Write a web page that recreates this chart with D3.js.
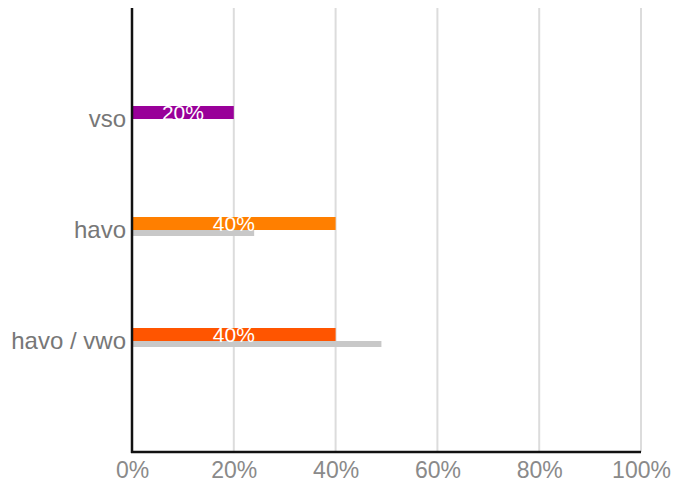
<!DOCTYPE html>
<html><head><meta charset="utf-8">
<script src="https://cdn.jsdelivr.net/npm/d3@7"></script>
<style>body{margin:0;background:#fff}svg{display:block}</style>
</head><body>
<svg id="c" width="677" height="493"></svg>
<script>
const categories = ["vso", "havo", "havo / vwo"];
const mainValues = [0.20, 0.40, 0.40];
const mainLabels = ["20%", "40%", "40%"];
const compareValues = [null, 0.24, 0.49];
const barColors = ["#990099", "#ff7f00", "#ff5500"];
const tickValues = [0, 0.2, 0.4, 0.6, 0.8, 1.0];

(function () {
const svg = d3.select("#c");
const mLeft = 132, mRight = 641, mTop = 8, mBottom = 452;
const x = d3.scaleLinear().domain([0, 1]).range([mLeft, mRight]);
const y = d3.scalePoint().domain(categories).range([mTop, mBottom]).padding(1);
const font = "'Liberation Sans', Arial, sans-serif";

// gridlines
svg.append("g").selectAll("line").data(tickValues.slice(1)).join("line")
  .attr("x1", d => x(d)).attr("x2", d => x(d))
  .attr("y1", mTop).attr("y2", mBottom)
  .attr("stroke", "#dcdcdc").attr("stroke-width", 2);

// comparison bars (grey)
svg.append("g").selectAll("rect").data(categories.map((c, i) => ({c, v: compareValues[i]})).filter(d => d.v != null)).join("rect")
  .attr("x", mLeft).attr("y", d => y(d.c))
  .attr("width", d => x(d.v) - mLeft).attr("height", 6)
  .attr("fill", "#c8c8c8");

// main bars
svg.append("g").selectAll("rect").data(categories.map((c, i) => ({c, v: mainValues[i], col: barColors[i]}))).join("rect")
  .attr("x", mLeft).attr("y", d => y(d.c) - 13)
  .attr("width", d => x(d.v) - mLeft).attr("height", 13)
  .attr("fill", d => d.col);

// bar labels
svg.append("g").selectAll("text").data(categories.map((c, i) => ({c, v: mainValues[i], t: mainLabels[i]}))).join("text")
  .attr("x", d => (mLeft + x(d.v)) / 2).attr("y", d => y(d.c) + 1)
  .attr("text-anchor", "middle").attr("fill", "#ffffff")
  .attr("font-family", font).attr("font-size", 21)
  .text(d => d.t);

// x axis
const xAxis = d3.axisBottom(x).tickValues(tickValues).tickFormat(d3.format(".0%")).tickSize(0).tickPadding(10);
const gx = svg.append("g").attr("transform", `translate(0,${mBottom})`).call(xAxis);
gx.select(".domain").remove();
gx.selectAll("text").attr("font-family", font).attr("font-size", 23).attr("fill", "#8a8a8a").attr("dy", "0.71em");

// y axis
const yAxis = d3.axisLeft(y).tickSize(0).tickPadding(6);
const gy = svg.append("g").attr("transform", `translate(${mLeft},0)`).call(yAxis);
gy.select(".domain").remove();
gy.selectAll("text").attr("font-family", font).attr("font-size", 24).attr("fill", "#777777");

// axis lines
svg.append("line").attr("x1", mLeft).attr("x2", mLeft).attr("y1", mTop).attr("y2", mBottom + 1)
  .attr("stroke", "#111").attr("stroke-width", 2.5);
svg.append("line").attr("x1", mLeft - 1).attr("x2", mRight).attr("y1", mBottom).attr("y2", mBottom)
  .attr("stroke", "#111").attr("stroke-width", 2.5);
})();
</script>
</body></html>
